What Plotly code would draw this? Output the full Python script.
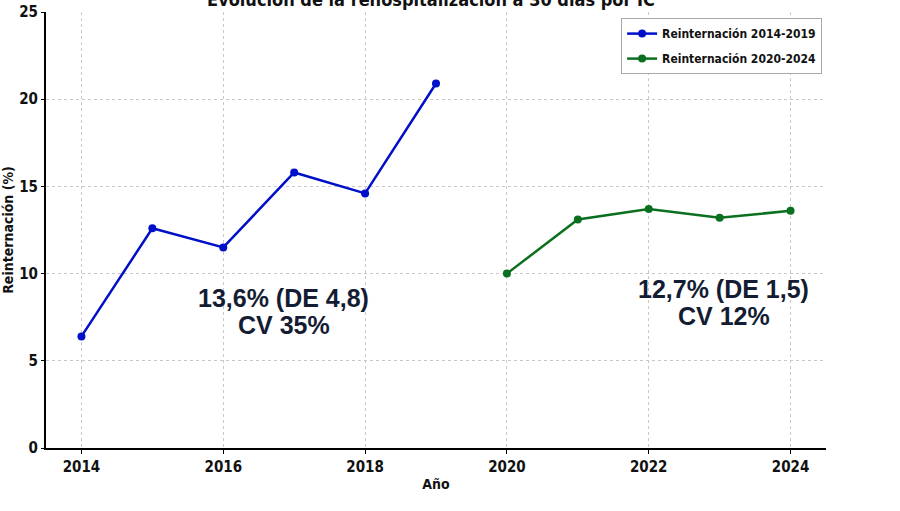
import plotly.graph_objects as go

years_a = [2014, 2015, 2016, 2017, 2018, 2019]
vals_a = [6.4, 12.6, 11.5, 15.8, 14.6, 20.9]
years_b = [2020, 2021, 2022, 2023, 2024]
vals_b = [10.0, 13.1, 13.7, 13.2, 13.6]
name_a = "Reinternación 2014-2019"
name_b = "Reinternación 2020-2024"
title = "Evolución de la rehospitalización a 30 días por IC"
x_ticks = [2014, 2016, 2018, 2020, 2022, 2024]
y_ticks = [0, 5, 10, 15, 20, 25]
ann_lines = [
    ("13,6% (DE 4,8)", 2016.85, 8.6),
    ("CV 35%", 2016.85, 7.05),
    ("12,7% (DE 1,5)", 2023.06, 9.12),
    ("CV 12%", 2023.06, 7.57),
]

cond = "DejaVu Sans Condensed, DejaVu Sans, sans-serif"

fig = go.Figure()
fig.add_trace(go.Scatter(x=years_a, y=vals_a, mode="lines+markers", name=name_a,
                         legendgroup="a",
                         line=dict(color="#0010c8", width=2.5),
                         marker=dict(color="#0010c8", size=8)))
fig.add_trace(go.Scatter(x=years_b, y=vals_b, mode="lines+markers", name=name_b,
                         legendgroup="b",
                         line=dict(color="#0a7020", width=2.5),
                         marker=dict(color="#0a7020", size=8)))

for txt, xx, yy in ann_lines:
    fig.add_annotation(x=xx, y=yy, text=f"<b>{txt}</b>", showarrow=False,
                       font=dict(family="Liberation Sans, Arial, sans-serif", size=25, color="#141c33"),
                       align="center", xanchor="center", yanchor="middle")

fig.update_layout(
    width=900, height=511,
    margin=dict(l=46, r=74, t=12, b=63, autoexpand=False),
    paper_bgcolor="white", plot_bgcolor="white",
    title=dict(text=f"<b>{title}</b>", x=431 / 900, xanchor="center", y=1.0, yref="container",
               yanchor="middle", font=dict(family=cond, size=18, color="#111")),
    font=dict(family=cond, color="#111", size=13),
    legend=dict(x=0.995, y=0.986, xanchor="right", yanchor="top",
                bordercolor="#aaaaaa", borderwidth=1, bgcolor="white",
                font=dict(family=cond, size=12, color="#111", weight="bold"),
                tracegroupgap=6, itemwidth=30),
    showlegend=True,
)
fig.update_xaxes(range=[2013.5, 2024.5], tickvals=x_ticks, ticktext=[str(v) for v in x_ticks],
                 automargin=False,
                 showgrid=True, gridcolor="#c8c8c8", griddash="dot", gridwidth=1,
                 showline=True, linecolor="black", linewidth=2,
                 ticks="outside", ticklen=4, tickcolor="black", tickwidth=1,
                 tickfont=dict(family=cond, size=15, weight="bold"),
                 title=dict(text="<b>Año</b>", font=dict(family=cond, size=14), standoff=4),
                 zeroline=False)
fig.update_yaxes(range=[0, 25], tickvals=y_ticks,
                 automargin=False,
                 showgrid=True, gridcolor="#c8c8c8", griddash="dot", gridwidth=1,
                 showline=True, linecolor="black", linewidth=2,
                 ticks="outside", ticklen=3, tickcolor="black", tickwidth=1,
                 tickfont=dict(family=cond, size=15, weight="bold"),
                 title=dict(text="<b>Reinternación (%)</b>", font=dict(family=cond, size=14), standoff=2),
                 zeroline=False)

fig.write_html("out.html")
